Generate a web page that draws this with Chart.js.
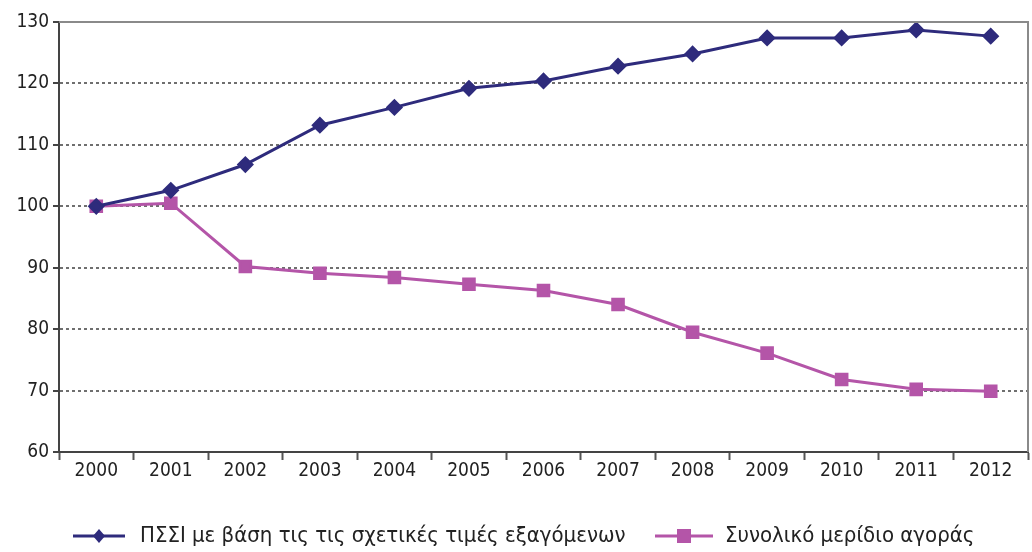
<!DOCTYPE html>
<html>
<head>
<meta charset="utf-8">
<script src="https://cdn.jsdelivr.net/npm/chart.js@4"></script>
<style>
  html, body { margin: 0; padding: 0; background: #fff; }
  #wrap { width: 1032px; height: 552px; }
</style>
</head>
<body>
<div id="wrap"><canvas id="grafico"></canvas></div>
<script>
// datos del gráfico
const years = ["2000", "2001", "2002", "2003", "2004", "2005", "2006", "2007", "2008", "2009", "2010", "2011", "2012"];
const psseLabel = "ΠΣΣΙ με βάση τις τις σχετικές τιμές εξαγόμενων";
const psseValues = [100, 102.6, 106.8, 113.2, 116.1, 119.2, 120.4, 122.8, 124.8, 127.4, 127.4, 128.7, 127.7];
const shareLabel = "Συνολικό μερίδιο αγοράς";
const shareValues = [100, 100.5, 90.2, 89.1, 88.4, 87.3, 86.3, 84.0, 79.5, 76.1, 71.8, 70.2, 69.9];
const yTicks = [60, 70, 80, 90, 100, 110, 120, 130];

const navy = "#2e2b7c";
const pink = "#b455a8";
const fontFam = "'DejaVu Sans Condensed', 'DejaVu Sans', sans-serif";

// borde gris arriba y a la derecha + leyenda abajo
const marcoYLeyenda = {
  id: "marcoYLeyenda",
  afterDraw(chart) {
    const { ctx, chartArea: a } = chart;
    ctx.save();
    ctx.strokeStyle = "#8a8a8a";
    ctx.lineWidth = 2;
    ctx.beginPath();
    ctx.moveTo(a.left, a.top);
    ctx.lineTo(a.right, a.top);
    ctx.lineTo(a.right, a.bottom);
    ctx.stroke();

    const y = 536;
    const items = [
      { x0: 73, x1: 125, tx: 140, ds: chart.data.datasets[0] },
      { x0: 655, x1: 713, tx: 725, ds: chart.data.datasets[1] }
    ];
    items.forEach(it => {
      ctx.strokeStyle = it.ds.borderColor;
      ctx.fillStyle = it.ds.borderColor;
      ctx.lineWidth = 3;
      ctx.beginPath();
      ctx.moveTo(it.x0, y);
      ctx.lineTo(it.x1, y);
      ctx.stroke();
      const cx = (it.x0 + it.x1) / 2;
      if (it.ds.pointStyle === "rect") {
        ctx.fillRect(cx - 7, y - 7, 14, 14);
      } else {
        ctx.beginPath();
        ctx.moveTo(cx, y - 7);
        ctx.lineTo(cx + 6, y);
        ctx.lineTo(cx, y + 7);
        ctx.lineTo(cx - 6, y);
        ctx.closePath();
        ctx.fill();
      }
      ctx.fillStyle = "#222";
      ctx.font = "22px " + fontFam;
      ctx.textBaseline = "middle";
      ctx.fillText(it.ds.label, it.tx, y);
    });
    ctx.restore();
  }
};

const ctx = document.getElementById("grafico").getContext("2d");
new Chart(ctx, {
  type: "line",
  data: {
    labels: years,
    datasets: [
      {
        label: psseLabel,
        data: psseValues,
        borderColor: navy,
        backgroundColor: navy,
        borderWidth: 3,
        pointStyle: "rectRot",
        pointRadius: 6.5,
        tension: 0
      },
      {
        label: shareLabel,
        data: shareValues,
        borderColor: pink,
        backgroundColor: pink,
        borderWidth: 3,
        pointStyle: "rect",
        pointRadius: 7.5,
        tension: 0
      }
    ]
  },
  options: {
    responsive: true,
    maintainAspectRatio: false,
    animation: false,
    layout: { autoPadding: false, padding: { top: 22, right: 4, bottom: 60, left: 0 } },
    plugins: {
      legend: { display: false },
      tooltip: { enabled: false }
    },
    scales: {
      x: {
        offset: true,
        grid: {
          offset: true,
          drawOnChartArea: false,
          drawTicks: true,
          tickLength: 8,
          tickColor: "#555",
          tickWidth: 2
        },
        border: { color: "#444", width: 2 },
        ticks: {
          color: "#222",
          font: { family: fontFam, size: 19 },
          padding: 0,
          maxRotation: 0
        },
        afterFit(scale) { scale.height = 40; }
      },
      y: {
        min: 60,
        max: 130,
        afterBuildTicks(scale) { scale.ticks = yTicks.map(v => ({ value: v })); },
        grid: {
          color: "#6f6f6f",
          lineWidth: 2,
          tickLength: 6,
          tickColor: "#444",
          tickBorderDash: []
        },
        border: { color: "#444", width: 2, dash: [3, 3] },
        ticks: {
          color: "#222",
          font: { family: fontFam, size: 19 },
          padding: 4
        },
        afterFit(scale) { scale.width = 59; }
      }
    }
  },
  plugins: [marcoYLeyenda]
});
</script>
</body>
</html>
